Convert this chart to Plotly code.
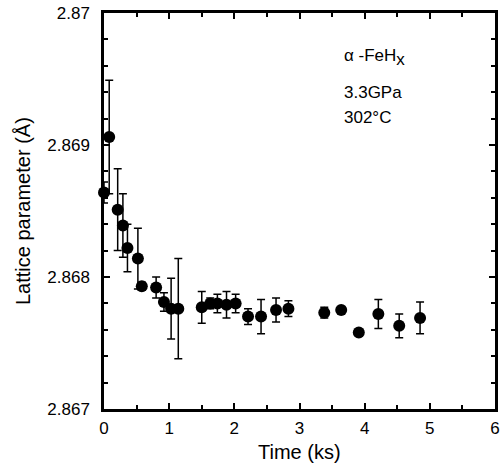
import plotly.graph_objects as go

time_ks = [0.00, 0.08, 0.21, 0.29, 0.36, 0.52, 0.58, 0.80, 0.92, 1.03, 1.14,
           1.50, 1.63, 1.74, 1.88, 2.02, 2.21, 2.41, 2.64, 2.83,
           3.38, 3.64, 3.91, 4.21, 4.53, 4.85]
lattice = [2.86864, 2.86906, 2.86851, 2.86839, 2.86822, 2.86814, 2.86793, 2.86792,
           2.86781, 2.86776, 2.86776,
           2.86777, 2.86780, 2.86780, 2.86779, 2.86780, 2.86770, 2.86770, 2.86775, 2.86776,
           2.86773, 2.86775, 2.86758, 2.86772, 2.86763, 2.86769]
err = [0.00008, 0.00043, 0.00031, 0.00024, 0.00018, 0.00023, 0.00003, 0.00008,
       0.00007, 0.00023, 0.00038,
       0.00012, 0.00004, 0.00007, 0.00010, 0.00007, 0.00006, 0.00013, 0.00009, 0.00006,
       0.00004, 0.00002, 0.0, 0.00011, 0.00009, 0.00012]

x_ticks = [0, 1, 2, 3, 4, 5, 6]
y_ticks = [2.867, 2.868, 2.869, 2.870]
y_ticktext = ["2.867", "2.868", "2.869", "2.87"]

FONT = "Liberation Sans, Arial, Helvetica, sans-serif"

fig = go.Figure()
fig.add_trace(go.Scatter(
    x=time_ks, y=lattice, mode="markers",
    marker=dict(size=12, color="black"),
    error_y=dict(type="data", array=err, symmetric=True, color="black",
                 thickness=1.5, width=4),
    showlegend=False, cliponaxis=False,
))

axis_common = dict(
    showline=True, linecolor="black", linewidth=2.5, mirror="ticks",
    ticks="inside", ticklen=6, tickwidth=2, tickcolor="black",
    showgrid=False, zeroline=False,
    tickfont=dict(family=FONT, size=17, color="black"),
)

fig.update_xaxes(range=[0, 6], tickvals=x_ticks,
                 minor=dict(dtick=0.5, ticks="inside", ticklen=4, tickwidth=2, tickcolor="black"),
                 ticklabelstandoff=2, **axis_common)
fig.update_yaxes(range=[2.867, 2.870], tickvals=y_ticks, ticktext=y_ticktext,
                 minor=dict(dtick=0.0002, ticks="inside", ticklen=4, tickwidth=2, tickcolor="black"),
                 ticklabelstandoff=8, **axis_common)

fig.add_annotation(text="Time (ks)", xref="paper", yref="paper", x=0.5, y=-0.108,
                   yanchor="middle", xanchor="center", showarrow=False,
                   font=dict(family=FONT, size=20, color="black"))
fig.add_annotation(text="Lattice parameter (Å)", xref="paper", yref="paper",
                   x=-0.207, y=0.5, textangle=-90, xanchor="center", yanchor="middle",
                   showarrow=False, font=dict(family=FONT, size=20, color="black"))

for txt, ypx in [("α -FeH<sub><span style='font-size:17px'>x</span></sub>", 57),
                 ("3.3GPa", 93), ("302°C", 117)]:
    fig.add_annotation(text=txt, xref="paper", yref="paper",
                       x=(345 - 104) / 396, y=(409 - ypx) / 396,
                       xanchor="left", yanchor="middle", showarrow=False,
                       font=dict(family=FONT, size=17, color="black"))

fig.update_layout(
    width=504, height=466,
    margin=dict(l=104, r=4, t=13, b=57),
    paper_bgcolor="white", plot_bgcolor="white",
)

fig.write_html("out.html")
